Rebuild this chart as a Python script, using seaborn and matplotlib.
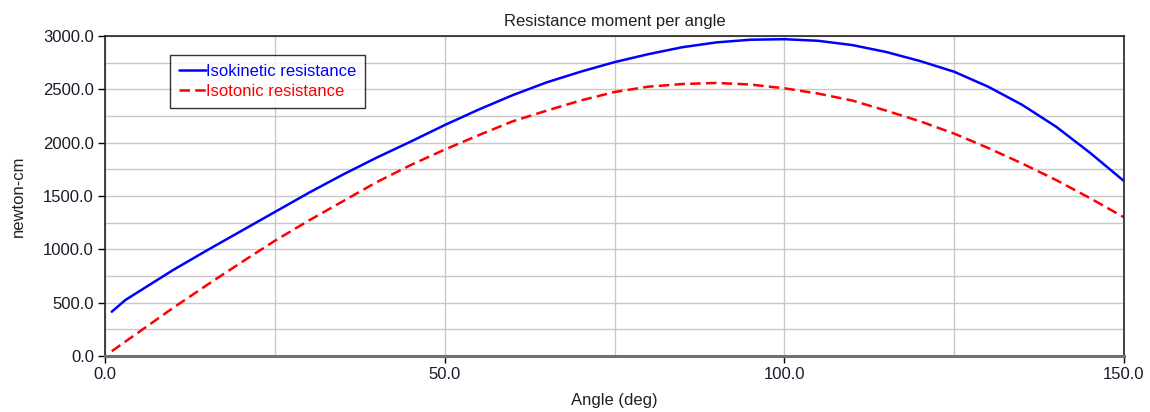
import numpy as np
import pandas as pd
import matplotlib
matplotlib.use("Agg")
import matplotlib.pyplot as plt
from matplotlib.ticker import MultipleLocator, FormatStrFormatter, NullFormatter
import seaborn as sns

angle_iso = [1, 3, 5, 10, 15, 20, 25, 30, 35, 40, 45, 50, 55, 60, 65, 70, 75, 80,
             85, 90, 95, 100, 105, 110, 115, 120, 125, 130, 135, 140, 145, 150]
isokinetic = [415, 525, 605, 805, 990, 1170, 1350, 1530, 1700, 1860, 2010, 2165,
              2310, 2445, 2565, 2665, 2755, 2830, 2895, 2940, 2965, 2970, 2955,
              2915, 2850, 2765, 2665, 2525, 2355, 2150, 1905, 1640]
angle_ist = [1, 5, 10, 15, 20, 25, 30, 35, 40, 45, 50, 55, 60, 65, 70, 75, 80,
             85, 90, 95, 100, 105, 110, 115, 120, 125, 130, 135, 140, 145, 150]
isotonic = [45, 225, 450, 665, 875, 1080, 1270, 1450, 1630, 1790, 1935, 2070,
            2200, 2300, 2395, 2475, 2525, 2550, 2560, 2545, 2510, 2460, 2395,
            2300, 2200, 2085, 1950, 1805, 1650, 1480, 1300]

series_names = ["Isokinetic resistance", "Isotonic resistance"]
colors = ["#0000ff", "#ff0000"]

df = pd.concat([
    pd.DataFrame({"angle": angle_iso, "moment": isokinetic, "series": series_names[0]}),
    pd.DataFrame({"angle": angle_ist, "moment": isotonic, "series": series_names[1]}),
], ignore_index=True)

sns.set_style("white")
plt.rcParams["font.family"] = ["Liberation Sans", "DejaVu Sans"]

fig = plt.figure(figsize=(11.5, 4.12), dpi=100)
ax = fig.add_axes([105 / 1150, 1 - 356 / 412, 1019 / 1150, 320 / 412])

sns.lineplot(data=df, x="angle", y="moment", hue="series", style="series",
             palette=dict(zip(series_names, colors)),
             dashes={series_names[0]: "", series_names[1]: (4.2, 2.1)},
             linewidth=1.8, ax=ax, legend=True)

ax.set_xlim(0, 150)
ax.set_ylim(0, 3000)
ax.xaxis.set_major_locator(MultipleLocator(50))
ax.xaxis.set_minor_locator(MultipleLocator(25))
ax.yaxis.set_major_locator(MultipleLocator(500))
ax.yaxis.set_minor_locator(MultipleLocator(250))
ax.xaxis.set_major_formatter(FormatStrFormatter("%.1f"))
ax.yaxis.set_major_formatter(FormatStrFormatter("%.1f"))
ax.xaxis.set_minor_formatter(NullFormatter())

ax.grid(True, which="both", color="#c8c8c8", linewidth=1.0)
ax.set_axisbelow(True)

ax.tick_params(axis="both", which="major", direction="out", length=5, width=1,
               color="#000000", labelsize=12, labelcolor="#1a1a2a", pad=3)
ax.tick_params(axis="y", which="minor", direction="out", length=5, width=1, color="#000000")
ax.tick_params(axis="x", which="minor", length=0)
ax.tick_params(left=True, bottom=True)

for s in ["top", "right", "left"]:
    ax.spines[s].set_color("#222222")
    ax.spines[s].set_linewidth(1.2)
ax.spines["bottom"].set_color("#707070")
ax.spines["bottom"].set_linewidth(2.2)

ax.set_title("Resistance moment per angle", fontsize=12, color="#222222", pad=7)
ax.set_xlabel("Angle (deg)", fontsize=12, color="#222222", labelpad=8)
ax.set_ylabel("newton-cm", fontsize=12, color="#222222", labelpad=12)

handles, labels = ax.get_legend_handles_labels()
leg = ax.legend(handles, labels, loc="upper left", bbox_to_anchor=(0.064, 0.942),
                fontsize=12, frameon=True, fancybox=False, edgecolor="#000000",
                handlelength=1.6, handletextpad=0.0, borderpad=0.55,
                labelspacing=0.3, borderaxespad=0)
leg.get_frame().set_linewidth(1.0)
for t, c in zip(leg.get_texts(), colors):
    t.set_color(c)

fig.savefig("out.png", dpi=100)
